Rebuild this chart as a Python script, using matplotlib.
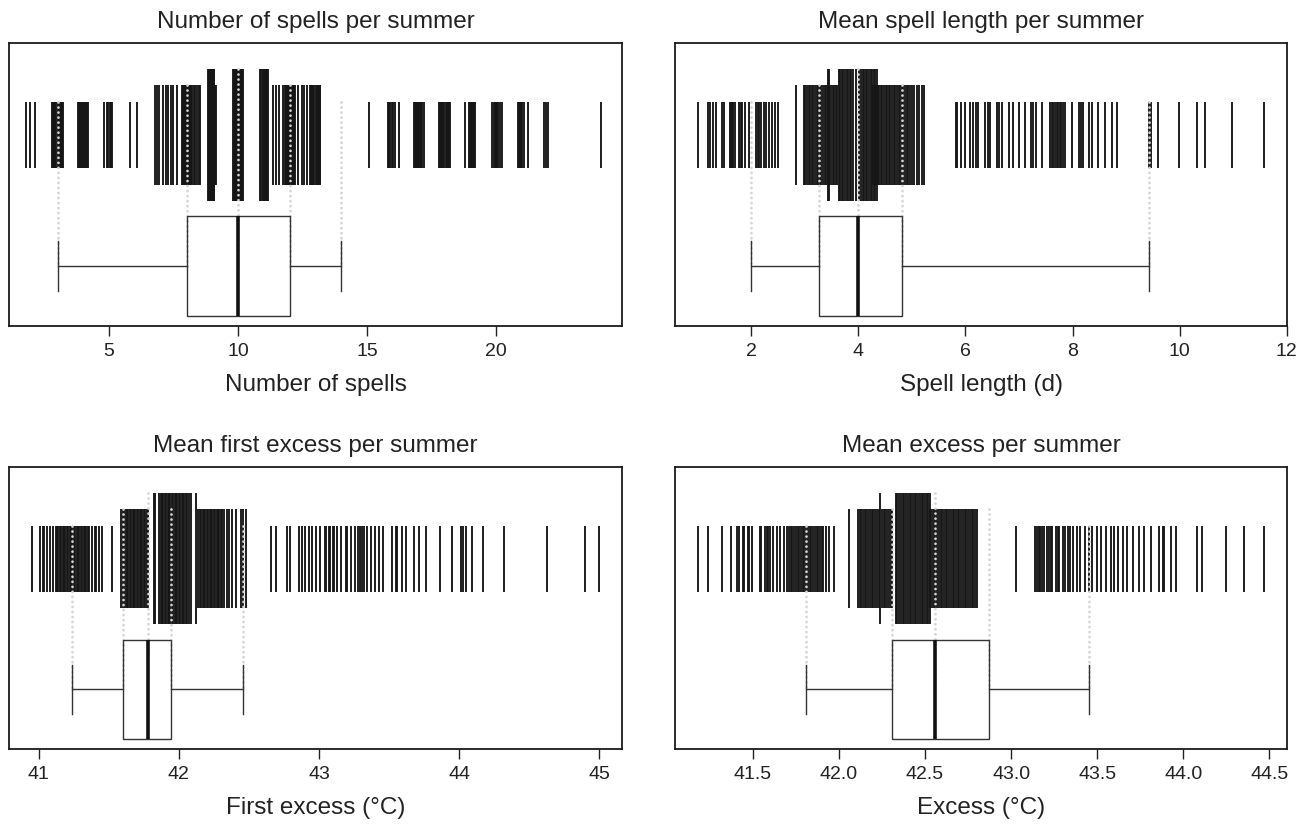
import matplotlib
matplotlib.use("Agg")
import matplotlib.pyplot as plt

plt.rcParams['font.family'] = ['Liberation Sans', 'DejaVu Sans']

# ---------------- data ----------------
titles = ["Number of spells per summer", "Mean spell length per summer",
          "Mean first excess per summer", "Mean excess per summer"]
xlabels = ["Number of spells", "Spell length (d)",
           "First excess (\u00b0C)", "Excess (\u00b0C)"]

# Panel 1: number of spells (rug values split by tick-height tier)
spells_short = [1.79, 1.95, 2.14,
                2.80, 2.84, 2.88, 2.92, 2.96, 3.00, 3.04, 3.08, 3.12, 3.16, 3.20,
                3.80, 3.84, 3.88, 3.92, 3.96, 4.00, 4.04, 4.08, 4.12, 4.16, 4.20,
                4.80, 4.92, 4.97, 5.02, 5.07, 5.13,
                5.82, 6.08,
                15.08,
                15.80, 15.84, 15.88, 15.95, 16.02, 16.10, 16.22,
                16.80, 16.84, 16.88, 16.92, 16.96, 17.00, 17.04, 17.08, 17.14, 17.20,
                17.80, 17.84, 17.88, 17.92, 17.96, 18.00, 18.04, 18.08, 18.12, 18.16, 18.20,
                18.80, 18.94, 18.98, 19.02, 19.06, 19.10, 19.15, 19.20,
                19.83, 19.92, 19.96, 20.00, 20.04, 20.08, 20.14, 20.22,
                20.85, 20.90, 20.94, 20.98, 21.02, 21.08, 21.24,
                21.86, 21.94, 22.03,
                24.07]
spells_medium = [6.78, 6.84, 6.95, 7.10, 7.20, 7.30, 7.39, 7.49, 7.62,
                 7.82, 7.86, 7.90, 7.94, 7.98, 8.02, 8.06, 8.10, 8.14, 8.18, 8.22,
                 8.28, 8.34, 8.40, 8.47, 8.53,
                 9.12, 9.16,
                 11.37, 11.47, 11.60, 11.73,
                 11.80, 11.84, 11.88, 11.92, 11.96, 12.00, 12.04, 12.08, 12.12, 12.16, 12.22,
                 12.34, 12.47, 12.56, 12.66,
                 12.80, 12.84, 12.88, 12.92, 12.96, 13.00, 13.04, 13.08, 13.12, 13.16, 13.18]
spells_tall = [8.84, 8.87, 8.90, 8.93, 8.96, 8.99, 9.02, 9.05, 9.08,
               9.80, 9.83, 9.86, 9.89, 9.92, 9.95, 9.98, 10.01, 10.04, 10.07, 10.10,
               10.13, 10.16, 10.20,
               10.84, 10.87, 10.95, 10.98, 11.01, 11.04, 11.07, 11.10, 11.13, 11.16]
spells_stats = [3.0, 8.0, 10.0, 12.0, 14.0]   # whisker low, Q1, median, Q3, whisker high

# Panel 2: mean spell length
length_short = [1.00, 1.19, 1.23, 1.29, 1.35, 1.45, 1.50, 1.60, 1.62, 1.64, 1.66, 1.69,
                1.77, 1.80, 1.82, 1.88, 1.96, 2.09, 2.12, 2.15, 2.19, 2.23, 2.28, 2.33,
                2.38, 2.45, 2.50,
                5.82, 5.85, 5.92, 6.00, 6.09, 6.14, 6.19, 6.23, 6.37, 6.42, 6.46, 6.58,
                6.63, 6.69, 6.81, 6.88, 7.00, 7.12, 7.22, 7.26, 7.31, 7.42,
                7.58, 7.61, 7.64, 7.67, 7.70, 7.73, 7.76, 7.79, 7.82, 7.85,
                7.98, 8.12, 8.15, 8.19, 8.31, 8.37, 8.48, 8.60, 8.73, 8.83,
                9.42, 9.46, 9.60, 9.98, 10.32, 10.48, 10.98, 11.58]
length_medium = [2.83,
                 2.98, 3.01, 3.04, 3.07, 3.10, 3.13, 3.16, 3.19, 3.22, 3.25, 3.28,
                 3.31, 3.34, 3.37, 3.40, 3.43, 3.46, 3.49, 3.52, 3.55, 3.58, 3.61,
                 4.27, 4.30, 4.33, 4.36, 4.39, 4.42, 4.45, 4.48, 4.51, 4.54, 4.57,
                 4.60, 4.63, 4.66, 4.69, 4.72, 4.75, 4.78, 4.81, 4.84, 4.87, 4.90,
                 4.93, 4.96, 5.00, 5.04, 5.09, 5.14, 5.19, 5.23]
length_tall = [3.43, 3.46,
               3.63, 3.66, 3.69, 3.72, 3.75, 3.78, 3.81, 3.84, 3.87, 3.90, 3.95,
               4.02, 4.05, 4.08, 4.11, 4.14, 4.17, 4.20, 4.23, 4.26, 4.29, 4.32, 4.35]
length_stats = [2.0, 3.27, 4.0, 4.81, 9.42]

# Panel 3: mean first excess
first_short = [40.95, 41.01, 41.03, 41.04, 41.06, 41.08, 41.10,
               41.12, 41.13, 41.14, 41.15, 41.16, 41.17, 41.18, 41.19, 41.20, 41.21,
               41.22, 41.23, 41.24, 41.25, 41.26, 41.27, 41.28, 41.29, 41.30, 41.31,
               41.32, 41.33, 41.34, 41.35, 41.36, 41.38, 41.40, 41.41, 41.43, 41.45,
               41.52,
               42.66, 42.69, 42.77, 42.79, 42.86, 42.88, 42.90, 42.93, 42.95, 42.98,
               43.01, 43.04, 43.05, 43.07, 43.08, 43.10, 43.11, 43.13, 43.16, 43.19,
               43.20, 43.23, 43.26, 43.28, 43.29, 43.31, 43.32, 43.34, 43.37, 43.40,
               43.43, 43.46, 43.52, 43.55, 43.56, 43.59, 43.62,
               43.68, 43.71, 43.76, 43.86, 43.95, 44.01, 44.03, 44.05, 44.09, 44.17,
               44.32, 44.63, 44.90, 45.00]
first_medium = [41.59, 41.60, 41.61, 41.62, 41.63, 41.64, 41.65, 41.66, 41.67, 41.68,
                41.69, 41.70, 41.71, 41.72, 41.73, 41.74, 41.75, 41.76, 41.77, 41.78,
                42.14, 42.15, 42.16, 42.17, 42.18, 42.19, 42.20, 42.21, 42.22, 42.23,
                42.24, 42.25, 42.26, 42.27, 42.28, 42.29, 42.30, 42.31, 42.32, 42.34,
                42.36, 42.38, 42.41, 42.44, 42.46, 42.48]
first_tall = [41.82, 41.83, 41.86, 41.87, 41.88, 41.89, 41.90, 41.91, 41.92, 41.93,
              41.94, 41.95, 41.96, 41.97, 41.98, 41.99, 42.00, 42.01, 42.02, 42.03,
              42.04, 42.05, 42.06, 42.07, 42.09, 42.12]
first_stats = [41.24, 41.605, 41.777, 41.947, 42.455]

# Panel 4: mean excess
excess_short = [41.18, 41.24, 41.32, 41.375, 41.41, 41.42, 41.44, 41.45, 41.47, 41.48,
                41.495, 41.54, 41.55, 41.57, 41.58, 41.59, 41.60, 41.62, 41.64, 41.66,
                41.68, 41.70, 41.71, 41.72, 41.73, 41.74, 41.75, 41.76, 41.77, 41.78,
                41.79, 41.80, 41.81, 41.82, 41.83, 41.84, 41.85, 41.86, 41.87, 41.88,
                41.89, 41.90, 41.91, 41.925, 41.94, 41.97,
                43.03, 43.14, 43.15, 43.16, 43.17, 43.18, 43.19, 43.21, 43.22, 43.23,
                43.24, 43.26, 43.27, 43.28, 43.30, 43.31, 43.33, 43.34, 43.36, 43.38,
                43.40, 43.43, 43.45, 43.47, 43.50, 43.52, 43.55, 43.58, 43.60, 43.62,
                43.65, 43.67, 43.71, 43.74, 43.77, 43.81, 43.86, 43.88, 43.89,
                43.93, 43.96, 44.08, 44.11, 44.25, 44.35, 44.47]
excess_medium = [42.06,
                 42.11, 42.12, 42.13, 42.14, 42.15, 42.16, 42.17, 42.18, 42.19, 42.20,
                 42.21, 42.22, 42.23, 42.25, 42.26, 42.27, 42.28, 42.29, 42.30, 42.31,
                 42.53, 42.54, 42.55, 42.56, 42.57, 42.58, 42.59, 42.60, 42.61, 42.62,
                 42.63, 42.64, 42.65, 42.66, 42.67, 42.68, 42.69, 42.70, 42.71, 42.72,
                 42.73, 42.74, 42.75, 42.76, 42.77, 42.78, 42.79, 42.80]
excess_tall = [42.24,
               42.33, 42.34, 42.35, 42.36, 42.37, 42.38, 42.39, 42.40, 42.41, 42.42,
               42.43, 42.44, 42.45, 42.46, 42.47, 42.48, 42.49, 42.50, 42.51, 42.52,
               42.53]
excess_stats = [41.81, 42.307, 42.556, 42.87, 43.455]

xlims = [(1.12, 24.88), (0.577, 12.003), (40.788, 45.162), (41.048, 44.602)]
xticks = [[5, 10, 15, 20], [2, 4, 6, 8, 10, 12],
          [41, 42, 43, 44, 45], [41.5, 42.0, 42.5, 43.0, 43.5, 44.0, 44.5]]
xticklabels = [["5", "10", "15", "20"], ["2", "4", "6", "8", "10", "12"],
               ["41", "42", "43", "44", "45"],
               ["41.5", "42.0", "42.5", "43.0", "43.5", "44.0", "44.5"]]

panels = [(spells_short, spells_medium, spells_tall, spells_stats),
          (length_short, length_medium, length_tall, length_stats),
          (first_short, first_medium, first_tall, first_stats),
          (excess_short, excess_medium, excess_tall, excess_stats)]

# ---------------- drawing ----------------
W, H = 1307, 825
fig = plt.figure(figsize=(W / 100, H / 100), dpi=100)

lefts = [9, 675, 9, 675]
rights = [622, 1287, 622, 1287]
tops = [43, 43, 467, 467]
bottoms = [326, 326, 749, 749]

RUG_C = 0.675
HALF = [0.117, 0.175, 0.233]        # short, medium, tall
BOX_C = 0.211
BOX_W = 0.352
DOT_HALF = [0.117, 0.175, 0.233, 0.175, 0.117]

for i, (short, medium, tall, stats) in enumerate(panels):
    ax = fig.add_axes([lefts[i] / W, 1 - bottoms[i] / H,
                       (rights[i] - lefts[i]) / W, (bottoms[i] - tops[i]) / H])
    for vals, h in zip((short, medium, tall), HALF):
        ax.vlines(vals, RUG_C - h, RUG_C + h, colors='#161616', linewidth=1.35, zorder=2)

    for v, h in zip(stats, DOT_HALF):
        ax.plot([v, v], [RUG_C + h, BOX_C], color='#d4d4d4', lw=2.0,
                linestyle=(0, (0.01, 1.8)), dash_capstyle='round', zorder=3)

    st = dict(whislo=stats[0], q1=stats[1], med=stats[2], q3=stats[3],
              whishi=stats[4], fliers=[])
    ax.bxp([st], positions=[BOX_C], widths=BOX_W, orientation='horizontal',
           showfliers=False, capwidths=BOX_W / 2, patch_artist=True,
           boxprops=dict(facecolor='none', edgecolor='#333333', linewidth=1.0),
           medianprops=dict(color='#111111', linewidth=2.6, solid_capstyle='butt'),
           whiskerprops=dict(color='#333333', linewidth=1.0),
           capprops=dict(color='#333333', linewidth=1.0),
           manage_ticks=False, zorder=4)

    ax.set_xlim(*xlims[i])
    ax.set_ylim(0, 1)
    ax.set_yticks([])
    ax.set_xticks(xticks[i])
    ax.set_xticklabels(xticklabels[i])
    ax.tick_params(axis='x', direction='out', length=7, width=1.0,
                   pad=5, labelsize=14, colors='#222222')
    for sp in ax.spines.values():
        sp.set_linewidth(1.3)
        sp.set_color('#1a1a1a')
    ax.set_title(titles[i], fontsize=17.5, pad=10.5, color='#222222')
    ax.set_xlabel(xlabels[i], fontsize=17.5, labelpad=10, color='#222222')

fig.savefig("out.png", dpi=100)
